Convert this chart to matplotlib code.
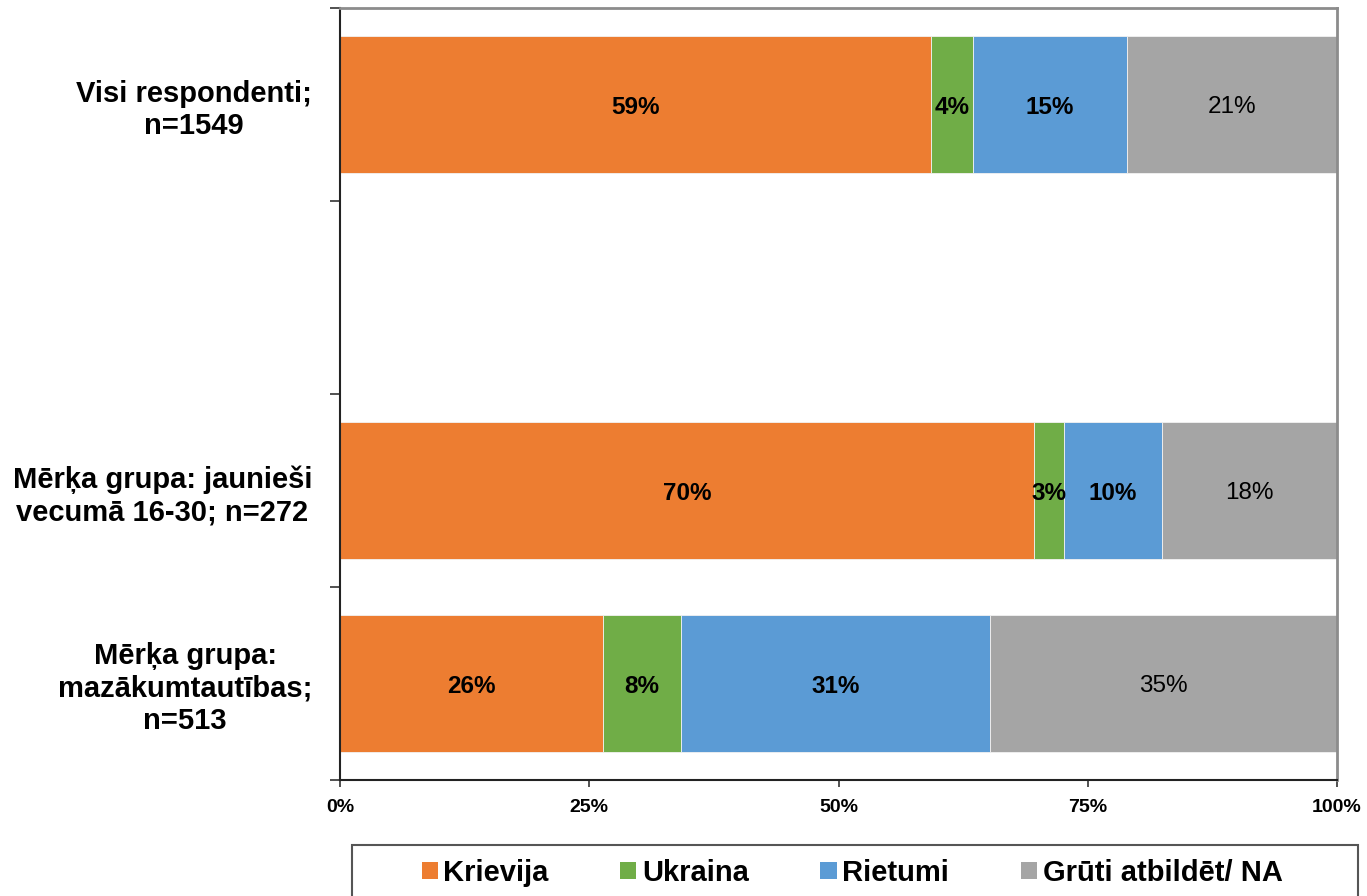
import matplotlib
matplotlib.use("Agg")
import matplotlib.pyplot as plt
from matplotlib.patches import Patch, Rectangle
import numpy as np

plt.rcParams['font.family'] = ['Liberation Sans', 'DejaVu Sans']

categories = [
    "Visi respondenti;\nn=1549",
    "",
    "Mērķa grupa: jaunieši\nvecumā 16-30; n=272",
    "Mērķa grupa:\nmazākumtautības;\nn=513",
]
series_names = ["Krievija", "Ukraina", "Rietumi", "Grūti atbildēt/ NA"]
krievija = [59.3, 0, 69.6, 26.4]
ukraina = [4.2, 0, 3.0, 7.8]
rietumi = [15.4, 0, 9.8, 31.0]
gruti = [21.1, 0, 17.6, 34.8]
colors = ["#ED7D31", "#70AD47", "#5B9BD5", "#A5A5A5"]
label_weights = ["bold", "bold", "bold", "normal"]
xticks = [0, 25, 50, 75, 100]
xtick_labels = ["0%", "25%", "50%", "75%", "100%"]

fig = plt.figure(figsize=(13.67, 8.96), dpi=100)
ax = fig.add_axes([340/1367, 1-780/896, (1337-340)/1367, (780-8)/896])

y = np.arange(len(categories))
left = np.zeros(len(categories))
for vals, col, name, w in zip([krievija, ukraina, rietumi, gruti], colors, series_names, label_weights):
    vals = np.array(vals, dtype=float)
    ax.barh(y, vals, left=left, height=0.71, color=col, edgecolor="#f2f2f2", linewidth=0.6, label=name)
    for yi, v, l in zip(y, vals, left):
        if v > 0:
            ax.text(l + v/2, yi, f"{v:.0f}%", ha="center", va="center_baseline",
                    fontsize=17.5, fontweight=w, color="black")
    left += vals

ax.set_xlim(0, 100)
ax.set_ylim(3.5, -0.5)
ax.set_xticks(xticks)
ax.set_xticklabels(xtick_labels, fontsize=14, fontweight="bold")
ax.tick_params(axis="x", direction="out", length=5, width=1.2, pad=9, color="#333333")

ax.set_yticks(y)
ax.set_yticklabels(categories, fontsize=21, fontweight="bold", multialignment="center")
ax.tick_params(axis="y", which="major", length=0, pad=20)
ax.set_yticks(np.arange(-0.5, len(categories)), minor=True)
ax.tick_params(axis="y", which="minor", direction="out", length=7, width=1.2, color="#333333")

for s in ["top", "right"]:
    ax.spines[s].set_color("#8c8c8c")
    ax.spines[s].set_linewidth(2)
for s in ["left", "bottom"]:
    ax.spines[s].set_color("#222222")
    ax.spines[s].set_linewidth(1.5)

# legend
handles = [Patch(facecolor=c, edgecolor="none") for c in colors]
fig.legend(handles, series_names, loc="center", bbox_to_anchor=(852/1367, 1-873/896),
           ncol=4, frameon=False, prop={"size": 21, "weight": "bold"},
           handlelength=0.55, handleheight=0.55, handletextpad=0.2, columnspacing=2.45)
fig.patches.append(Rectangle((352/1367, -0.05), (1358-352)/1367, 0.05 + 1-845/896,
                             transform=fig.transFigure, fill=False, edgecolor="#555555",
                             linewidth=1.5))

fig.savefig("out.png", dpi=100)
